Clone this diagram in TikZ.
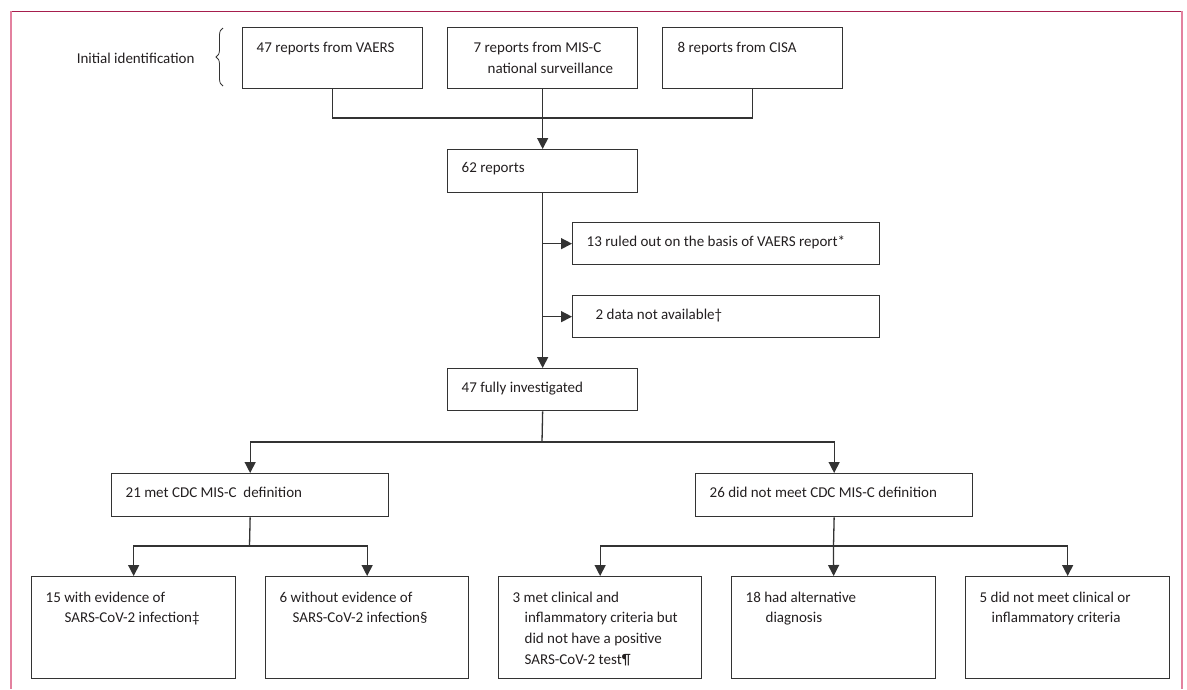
\documentclass[tikz,border=0pt]{standalone}
\usepackage{fontspec}
\setmainfont{Carlito}
\usepackage{tikz}
\usetikzlibrary{arrows.meta,decorations.pathreplacing}

\definecolor{framepink}{HTML}{E3819F}
\definecolor{framered}{HTML}{A61E4D}
\definecolor{linegray}{HTML}{333333}
\definecolor{textdark}{HTML}{231F20}

% box text: inner width, height, top gap, text
\newcommand{\flowtext}[4]{\begin{minipage}[t][#2pt][t]{#1pt}\raggedright\vspace*{#3pt}#4\end{minipage}}

\begin{document}
\begin{tikzpicture}[x=1pt,y=-1pt,
		every node/.style={font=\fontsize{15}{20.7}\selectfont,text=textdark},
		flowbox/.style={draw=linegray,line width=1.3pt,anchor=north west,inner xsep=14pt,inner ysep=0pt},
		flowline/.style={draw=linegray,line width=1.3pt},
		flowarrow/.style={flowline,-{Triangle[length=11pt,width=11pt]}}]
			\useasboundingbox (0,0) rectangle (1187,689);

			%frame
			\draw[framered,line width=1pt] (11,11.5) -- (1182,11.5);
			\draw[framepink,line width=2pt] (11,11) -- (11,689);
			\draw[framepink,line width=2pt] (1182,11) -- (1182,689);

			%initial identification
			\node[anchor=east] (initid) at (198,58) {Initial identification};
			\draw[linegray,line width=.8pt,decorate,decoration={brace,amplitude=7pt}] (223,86) -- (223,28);
			\node[flowbox] (vaers) at (242,27) {\flowtext{152}{61}{15}{47 reports from VAERS}};
			\node[flowbox] (misc) at (447,27) {\flowtext{162}{61}{15}{\hspace*{12pt}7 reports from MIS-C\\\hspace*{26pt}national surveillance}};
			\node[flowbox] (cisa) at (662,27) {\flowtext{152}{61}{15}{\hspace*{1pt}8 reports from CISA}};

			%middle column
			\node[flowbox] (r62) at (447,149) {\flowtext{162}{43}{13}{62 reports}};
			\node[flowbox] (ruled) at (572,222) {\flowtext{279}{42}{13}{13 ruled out on the basis of VAERS report*}};
			\node[flowbox] (nodata) at (572,295) {\flowtext{279}{42}{13}{\hspace*{9pt}2 data not available\textdagger}};
			\node[flowbox] (full) at (447,368) {\flowtext{162}{42}{13}{47 fully investigated}};

			%definition
			\node[flowbox] (met) at (111,473) {\flowtext{249}{43}{13}{21 met CDC MIS-C\ \ definition}};
			\node[flowbox] (notmet) at (695,473) {\flowtext{249}{43}{13}{26 did not meet CDC MIS-C definition}};

			%bottom row
			\node[flowbox] (withev) at (31,576) {\flowtext{176}{102}{15}{15 with evidence of\\\hspace*{19pt}SARS-CoV-2 infection\textdaggerdbl}};
			\node[flowbox] (without) at (265,576) {\flowtext{175}{102}{15}{6 without evidence of\\\hspace*{13pt}SARS-CoV-2 infection\S}};
			\node[flowbox] (clin) at (498,576) {\flowtext{175}{102}{15}{3 met clinical and\\\hspace*{12pt}inflammatory criteria but\\\hspace*{12pt}did not have a positive\\\hspace*{12pt}SARS-CoV-2 test\P}};
			\node[flowbox] (alt) at (731,576) {\flowtext{176}{102}{15}{18 had alternative\\\hspace*{20pt}diagnosis}};
			\node[flowbox] (nocrit) at (965,576) {\flowtext{176}{102}{15}{5 did not meet clinical or\\\hspace*{12pt}inflammatory criteria}};

			%joints
			\coordinate (mrg) at (542,118);
			\coordinate (split1) at (542,442);
			\coordinate (split2) at (249.5,546);
			\coordinate (split3) at (833.5,546);

			%edges
			\draw[flowline] (vaers.south) |- (mrg) -| (cisa.south);
			\draw[flowarrow] (misc.south) -- (r62.north);
			\draw[flowarrow] (r62.south) -- (full.north);
			\draw[flowarrow] (r62.south |- ruled.west) -- (ruled.west);
			\draw[flowarrow] (r62.south |- nodata.west) -- (nodata.west);
			\draw[flowline] (full.south) -- (split1);
			\draw[flowarrow] (split1) -| (met.north);
			\draw[flowarrow] (split1) -| (notmet.north);
			\draw[flowline] (met.south) -- (split2);
			\draw[flowarrow] (split2) -| (withev.north);
			\draw[flowarrow] (split2) -| (without.north);
			\draw[flowline] (notmet.south) -- (split3);
			\draw[flowarrow] (split3) -| (clin.north);
			\draw[flowarrow] (split3) -- (alt.north);
			\draw[flowarrow] (split3) -| (nocrit.north);
		\end{tikzpicture}
\end{document}
